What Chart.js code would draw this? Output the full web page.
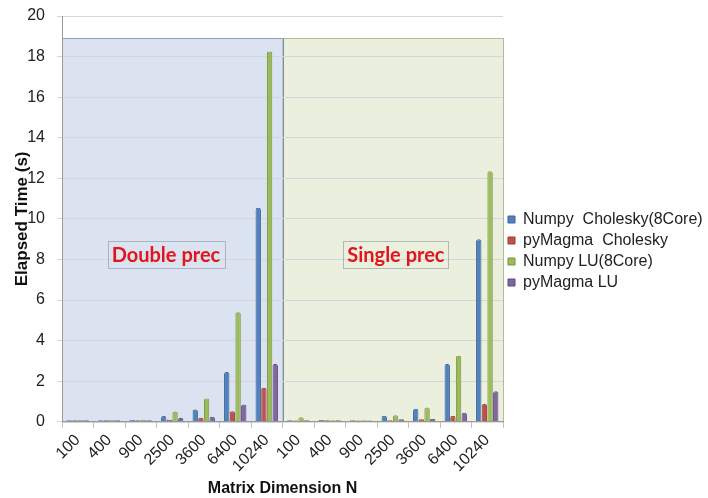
<!DOCTYPE html>
<html>
<head>
<meta charset="utf-8">
<script src="https://cdn.jsdelivr.net/npm/chart.js@4"></script>
<style>
    body { margin: 0; background: #fff; }
    #wrap { width: 708px; height: 498px; }
</style>
</head>
<body>
<div id="wrap"><canvas id="chart" width="708" height="498"></canvas></div>
<script>
// matrix sizes, double precision first then single precision
const matrixSizes = ['100', '400', '900', '2500', '3600', '6400', '10240',
                     '100', '400', '900', '2500', '3600', '6400', '10240'];

const numpyCholesky = [0.08, 0.08, 0.09, 0.28, 0.60, 2.45, 10.55, 0.07, 0.09, 0.07, 0.30, 0.64, 2.85, 9.00];
const magmaCholesky = [0.08, 0.08, 0.08, 0.10, 0.20, 0.52, 1.68, 0.06, 0.07, 0.06, 0.07, 0.12, 0.30, 0.87];
const numpyLU       = [0.09, 0.09, 0.10, 0.50, 1.15, 5.40, 18.25, 0.22, 0.08, 0.07, 0.32, 0.70, 3.25, 12.35];
const magmaLU       = [0.08, 0.08, 0.08, 0.18, 0.25, 0.85, 2.85, 0.07, 0.07, 0.06, 0.12, 0.15, 0.45, 1.50];

const seriesNames = ['Numpy  Cholesky(8Core)', 'pyMagma  Cholesky', 'Numpy LU(8Core)', 'pyMagma LU'];
const yTicks = [0, 2, 4, 6, 8, 10, 12, 14, 16, 18, 20];

// shaded regions
const regionNames = ['Double prec', 'Single prec'];
const regionFirst = [0, 7];
const regionLast = [6, 13];
const regionTop = 18.9;
const labelIndex = [2.8, 10.1];
const labelValue = 8.2;

const regionFills = ['#dbe2f0', '#ebf0de'];
const regionLines = ['#8e9cb6', '#b2bb9c'];

const regionPlugin = {
    id: 'regions',
    beforeInit(chart) {
        // fixed legend width so the plot ends where the original does
        const fit = chart.legend.fit;
        chart.legend.fit = function () {
            fit.call(this);
            this.width = 205;
        };
    },
    beforeDraw(chart) {
        const { ctx, scales } = chart;
        const x = scales.x, y = scales.y;
        const top = y.getPixelForValue(regionTop);
        const bottom = y.getPixelForValue(0);
        ctx.save();
        regionNames.forEach((name, i) => {
            const left = x.getPixelForValue(regionFirst[i] - 0.5);
            const right = x.getPixelForValue(regionLast[i] + 0.5);
            ctx.fillStyle = regionFills[i];
            ctx.fillRect(left, top, right - left, bottom - top);
            ctx.strokeStyle = regionLines[i];
            ctx.lineWidth = 1;
            ctx.strokeRect(Math.round(left) + 0.5, Math.round(top) + 0.5, Math.round(right - left) - 1, bottom - top);
        });
        // separator between the two halves
        const sep = Math.round(x.getPixelForValue(regionLast[0] + 0.5)) + 0.5;
        ctx.strokeStyle = '#7d8ca6';
        ctx.beginPath();
        ctx.moveTo(sep, top);
        ctx.lineTo(sep, bottom);
        ctx.stroke();
        ctx.restore();
    },
    afterDatasetsDraw(chart) {
        const { ctx, scales } = chart;
        const x = scales.x, y = scales.y;
        ctx.save();
        ctx.font = 'bold 20px Lato, "Open Sans", sans-serif';
        ctx.textAlign = 'center';
        ctx.textBaseline = 'middle';
        regionNames.forEach((name, i) => {
            const cx = x.getPixelForValue(labelIndex[i]);
            const cy = y.getPixelForValue(labelValue);
            const w = ctx.measureText(name).width + 8;
            ctx.strokeStyle = 'rgba(130,140,155,0.55)';
            ctx.lineWidth = 1;
            ctx.strokeRect(Math.round(cx - w / 2) + 0.5, Math.round(cy - 14) + 0.5, Math.round(w), 27);
            ctx.fillStyle = '#e2151c';
            ctx.fillText(name, cx, cy);
        });
        ctx.restore();
    }
};

const colors = ['#4f81bd', '#c0504d', '#9bbb59', '#8064a2'];
const borders = ['#3a6397', '#9a3a37', '#77923f', '#5f4880'];
const values = [numpyCholesky, magmaCholesky, numpyLU, magmaLU];

const datasets = values.map((v, i) => ({
    label: seriesNames[i],
    data: v,
    backgroundColor: colors[i],
    borderColor: borders[i],
    borderWidth: 1,
    borderRadius: { topLeft: 2, topRight: 2 },
    borderSkipped: 'bottom',
    categoryPercentage: 0.72,
    barPercentage: 0.95
}));

const font = '"Liberation Sans", Arial, sans-serif';

new Chart(document.getElementById('chart'), {
    type: 'bar',
    data: { labels: matrixSizes, datasets: datasets },
    options: {
        responsive: false,
        animation: false,
        layout: { padding: { top: 4, left: 8, right: 0, bottom: 0 } },
        plugins: {
            legend: {
                position: 'right',
                labels: {
                    boxWidth: 7,
                    boxHeight: 7,
                    padding: 5,
                    color: '#222',
                    font: { family: font, size: 16 }
                }
            },
            tooltip: { enabled: false }
        },
        scales: {
            x: {
                afterFit(scale) {
                    // rotated first label may hang past the y axis
                    scale.paddingLeft = 0;
                    scale.paddingRight = 0;
                },
                grid: {
                    drawOnChartArea: false,
                    drawTicks: true,
                    tickLength: 6,
                    color: '#bfbfbf'
                },
                border: { color: '#9a9a9a' },
                ticks: {
                    autoSkip: false,
                    minRotation: 45,
                    maxRotation: 45,
                    color: '#222',
                    font: { family: font, size: 16 }
                },
                title: {
                    display: true,
                    text: 'Matrix Dimension N',
                    color: '#111',
                    font: { family: font, size: 16, weight: 'bold' },
                    padding: { top: 0, bottom: 0 }
                }
            },
            y: {
                min: 0,
                max: 20,
                afterBuildTicks(scale) {
                    scale.ticks = yTicks.map(v => ({ value: v }));
                },
                afterFit(scale) {
                    scale.width = 54;
                    scale.paddingTop = 16;
                },
                grid: {
                    color: '#d3d6dc',
                    tickLength: 5
                },
                border: { color: '#9a9a9a' },
                ticks: {
                    color: '#222',
                    padding: 12,
                    font: { family: font, size: 16 }
                },
                title: {
                    display: true,
                    text: 'Elapsed Time (s)',
                    color: '#111',
                    font: { family: font, size: 17, weight: 'bold' },
                    padding: { top: 4, bottom: 0 }
                }
            }
        }
    },
    plugins: [regionPlugin]
});
</script>
</body>
</html>
